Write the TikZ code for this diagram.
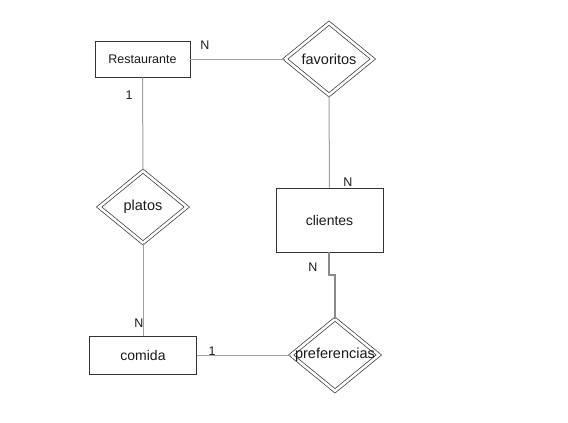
\documentclass[tikz,border=0pt]{standalone}
\usepackage{fontspec}
\setmainfont{Liberation Sans}
\usetikzlibrary{shapes.geometric}
\definecolor{txt}{HTML}{1A1A1A}
\definecolor{boxline}{HTML}{333333}
\definecolor{conn}{HTML}{A0A0A0}
\definecolor{conn2}{HTML}{8A8A8A}
\newcommand{\zw}[1]{\makebox[0pt]{#1}}
\tikzset{
  entity/.style={draw=boxline, line width=0.9pt, rectangle, inner sep=0pt, font=\fontsize{14}{16}\selectfont, text=txt},
  rel/.style={draw=boxline, line width=0.7pt, diamond, double, double distance=2.6pt, inner sep=0pt,
     minimum width=88pt, minimum height=72pt, font=\fontsize{14.5}{16}\selectfont, text=txt},
  link/.style={draw=conn, line width=1pt},
  link2/.style={draw=conn2, line width=2pt},
  card/.style={font=\fontsize{12.5}{14}\selectfont, text=txt, inner sep=0pt}
}
\begin{document}
\begin{tikzpicture}[x=1pt,y=-1pt]
\useasboundingbox (0,0) rectangle (568,423);
\node[entity, minimum width=95pt, minimum height=36pt, font=\fontsize{12.5}{14}\selectfont] (rest) at (142.5,59) {Restaurante};
\node[rel] (fav) at (329,59) {\zw{favoritos}};
\node[rel] (plat) at (143,207) {\zw{platos}};
\node[entity, minimum width=107pt, minimum height=38pt] (com) at (143,355) {comida};
\node[entity, minimum width=107pt, minimum height=64pt] (cli) at (329.5,220) {clientes};
\node[rel] (pref) at (335,355) {\zw{preferencias}};
\coordinate (ca) at (329,275);
\coordinate (cb) at (335,275);
% connectors
\draw[link] (rest.east) -- (fav.west);
\draw[link] (rest.south) -- (plat.north);
\draw[link] (plat.south) -- (com.north);
\draw[link] (fav.south) -- (cli.north);
\draw[link] (com.east) -- (pref.west);
\draw[link2] (cli.south -| ca) -- (ca) -- (cb) -- (pref.north);
% cardinalities
\node[card] (c1) at (205,45) {N};
\node[card] (c2) at (129,95) {1};
\node[card] (c3) at (139,323) {N};
\node[card] (c4) at (212,351) {1};
\node[card] (c5) at (348,182) {N};
\node[card] (c6) at (313,267) {N};
\end{tikzpicture}
\end{document}
